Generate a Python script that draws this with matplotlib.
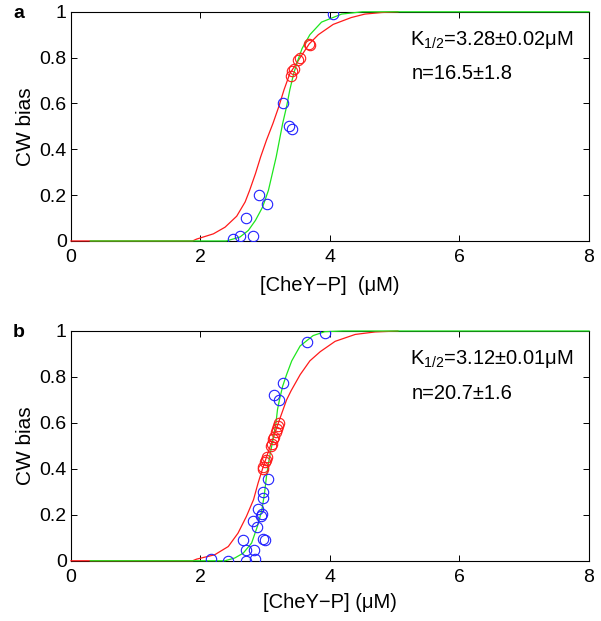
import matplotlib.pyplot as plt

plt.rcParams['font.family'] = ['Liberation Sans', 'DejaVu Sans']
plt.rcParams['mathtext.fontset'] = 'custom'
plt.rcParams['mathtext.rm'] = 'Liberation Sans'

# panel a
a_blue_x = [2.50, 2.61, 2.70, 2.81, 2.90, 3.03, 3.27, 3.36, 3.41, 4.04]
a_blue_y = [0.01, 0.02, 0.10, 0.02, 0.20, 0.16, 0.60, 0.50, 0.49, 0.99]
a_red_x = [3.40, 3.42, 3.44, 3.51, 3.54, 3.68, 3.69]
a_red_y = [0.72, 0.74, 0.75, 0.79, 0.80, 0.86, 0.855]

# panel a -- fitted curves
a_redline_x = [0.0, 1.88, 1.94, 2.20, 2.38, 2.56, 2.69, 2.76, 2.85, 2.93, 3.02, 3.12,
               3.21, 3.29, 3.38, 3.54, 3.68, 3.82, 4.05, 4.33, 4.54, 4.80, 5.05]
a_redline_y = [0.0, 0.0, 0.008, 0.031, 0.06, 0.108, 0.17, 0.221, 0.294, 0.367, 0.44, 0.513,
               0.586, 0.659, 0.73, 0.80, 0.86, 0.90, 0.945, 0.975, 0.99, 0.997, 1.0]
a_greenline_x = [0.30, 2.40, 2.61, 2.74, 2.85, 2.96, 3.05, 3.11, 3.17, 3.22, 3.27,
                 3.33, 3.38, 3.44, 3.50, 3.57, 3.69, 3.87, 4.18, 4.50, 8.0]
a_greenline_y = [0.0, 0.0, 0.017, 0.046, 0.09, 0.148, 0.221, 0.294, 0.367, 0.44, 0.513,
                 0.586, 0.659, 0.73, 0.785, 0.84, 0.90, 0.955, 0.99, 1.0, 1.0]

# panel b -- data points
b_blue_x = [3.92, 3.65, 3.27, 3.14, 3.22, 3.04, 2.96, 2.97, 2.89, 2.95, 2.93,
            2.81, 2.87, 2.65, 2.97, 3.00, 2.70, 2.82, 2.16, 2.43, 2.70, 2.85]
b_blue_y = [0.99, 0.95, 0.774, 0.723, 0.70, 0.358, 0.30, 0.272, 0.225, 0.203, 0.193,
            0.174, 0.146, 0.091, 0.094, 0.09, 0.048, 0.048, 0.007, 0.001, 0.0, 0.007]
b_red_x = [2.96, 2.97, 3.00, 3.02, 3.03, 3.09, 3.11, 3.12, 3.14, 3.16, 3.18, 3.20, 3.22]
b_red_y = [0.40, 0.41, 0.43, 0.44, 0.45, 0.50, 0.51, 0.53, 0.54, 0.56, 0.575, 0.587, 0.60]

b_redline_x = [0.0, 1.88, 1.94, 2.22, 2.43, 2.58, 2.71, 2.82, 2.89, 2.97, 3.06, 3.15,
               3.24, 3.33, 3.40, 3.54, 3.69, 3.85, 4.08, 4.39, 4.70, 5.05]
b_redline_y = [0.0, 0.0, 0.007, 0.026, 0.062, 0.12, 0.193, 0.266, 0.338, 0.41, 0.484, 0.556,
               0.629, 0.70, 0.74, 0.81, 0.87, 0.91, 0.955, 0.985, 0.996, 1.0]
b_greenline_x = [0.30, 2.38, 2.53, 2.66, 2.79, 2.88, 2.95, 2.99, 3.02, 3.06, 3.11,
                 3.16, 3.19, 3.22, 3.27, 3.33, 3.41, 3.54, 3.74, 3.92, 4.20, 8.0]
b_greenline_y = [0.0, 0.0, 0.012, 0.033, 0.077, 0.15, 0.222, 0.295, 0.367, 0.44, 0.513,
                 0.585, 0.658, 0.70, 0.76, 0.81, 0.87, 0.935, 0.98, 0.997, 1.0, 1.0]

panels = [
    ('a', a_redline_x, a_redline_y, a_greenline_x, a_greenline_y,
     a_blue_x, a_blue_y, a_red_x, a_red_y, '3.28\u00b10.02', '16.5\u00b11.8',
     '[CheY\u2212P]  (\u03bcM)', 7),
    ('b', b_redline_x, b_redline_y, b_greenline_x, b_greenline_y,
     b_blue_x, b_blue_y, b_red_x, b_red_y, '3.12\u00b10.01', '20.7\u00b11.6',
     '[CheY\u2212P] (\u03bcM)', 5),
]

fig = plt.figure(figsize=(6.01, 6.21), dpi=100)
boxes = [[0.118, 0.612, 0.862, 0.369], [0.118, 0.097, 0.862, 0.370]]

for box, p in zip(boxes, panels):
    letter, rx, ry, gx, gy, bx, by, px, py, k, n, xlab, lpad = p
    ax = fig.add_axes(box)
    ax.plot(rx, ry, color='#ff1a1a', lw=0.9, zorder=3, clip_on=False)
    ax.plot(gx, gy, color='#1ee61e', lw=0.9, zorder=3, clip_on=False)
    ax.plot(bx, by, 'o', mfc='none', mec='#2020ff', ms=7.5, mew=0.8, zorder=4)
    ax.plot(px, py, 'o', mfc='none', mec='#ff1a1a', ms=7.5, mew=0.8, zorder=4)
    ax.set_xlim(0, 8)
    ax.set_ylim(0, 1)
    ax.set_xticks([0, 2, 4, 6, 8])
    ax.set_yticks([0, 0.2, 0.4, 0.6, 0.8, 1])
    ax.set_yticklabels(['0', '0.2', '0.4', '0.6', '0.8', '1'])
    ax.tick_params(direction='in', top=True, right=True, length=4, width=0.7,
                   labelsize=14)
    ax.tick_params(axis='y', pad=3)
    ax.tick_params(axis='x', pad=6)
    for s in ax.spines.values():
        s.set_linewidth(0.8)
    ax.set_xlabel(xlab, fontsize=14.5, labelpad=lpad)
    ax.set_ylabel('CW bias', fontsize=15, labelpad=3)
    ax.text(0.654, 0.856, '$\\mathregular{K_{1/2}}$=' + k + '\u03bcM', transform=ax.transAxes,
            fontsize=14.5, va='baseline', ha='left')
    ax.text(0.657, 0.705, 'n=' + n, transform=ax.transAxes,
            fontsize=14.5, va='baseline', ha='left')
    ax.text(-0.112, 0.972, letter, transform=ax.transAxes, fontsize=14,
            fontweight='bold', va='baseline', ha='left')

fig.savefig('out.png', dpi=100)
